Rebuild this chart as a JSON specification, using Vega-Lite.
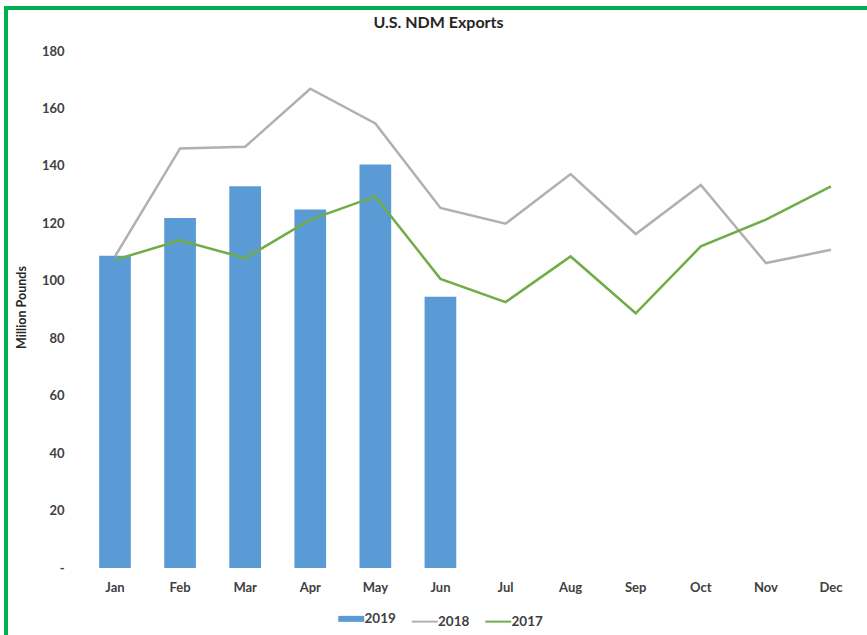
{
  "$schema": "https://vega.github.io/schema/vega-lite/v6.json",
  "width": 865,
  "height": 631,
  "autosize": {"type": "none"},
  "padding": {"left": 6, "top": 8, "right": -4, "bottom": -4},
  "background": "white",
  "title": {
    "text": "U.S. NDM Exports",
    "font": "Lato",
    "fontSize": 16,
    "fontWeight": "bold",
    "color": "#262626",
    "anchor": "middle",
    "frame": "group",
    "orient": "top",
    "offset": -23
  },
  "config": {
    "view": {"stroke": "#00B050", "strokeWidth": 4},
    "axis": {"grid": false}
  },
  "data": {
    "values": [
      {"month": "Jan", "series": "2019", "value": 108.7},
      {"month": "Feb", "series": "2019", "value": 121.9},
      {"month": "Mar", "series": "2019", "value": 132.9},
      {"month": "Apr", "series": "2019", "value": 124.8},
      {"month": "May", "series": "2019", "value": 140.5},
      {"month": "Jun", "series": "2019", "value": 94.5},
      {"month": "Jan", "series": "2018", "value": 108.5},
      {"month": "Feb", "series": "2018", "value": 146.1},
      {"month": "Mar", "series": "2018", "value": 146.7},
      {"month": "Apr", "series": "2018", "value": 166.9},
      {"month": "May", "series": "2018", "value": 154.8},
      {"month": "Jun", "series": "2018", "value": 125.4},
      {"month": "Jul", "series": "2018", "value": 119.9},
      {"month": "Aug", "series": "2018", "value": 137.2},
      {"month": "Sep", "series": "2018", "value": 116.3},
      {"month": "Oct", "series": "2018", "value": 133.4},
      {"month": "Nov", "series": "2018", "value": 106.2},
      {"month": "Dec", "series": "2018", "value": 110.8},
      {"month": "Jan", "series": "2017", "value": 107.3},
      {"month": "Feb", "series": "2017", "value": 114.1},
      {"month": "Mar", "series": "2017", "value": 107.9},
      {"month": "Apr", "series": "2017", "value": 121.3},
      {"month": "May", "series": "2017", "value": 129.4},
      {"month": "Jun", "series": "2017", "value": 100.7},
      {"month": "Jul", "series": "2017", "value": 92.6},
      {"month": "Aug", "series": "2017", "value": 108.5},
      {"month": "Sep", "series": "2017", "value": 88.7},
      {"month": "Oct", "series": "2017", "value": 112.0},
      {"month": "Nov", "series": "2017", "value": 121.3},
      {"month": "Dec", "series": "2017", "value": 132.9}
    ]
  },
  "encoding": {
    "x": {
      "field": "month",
      "type": "nominal",
      "sort": ["Jan", "Feb", "Mar", "Apr", "May", "Jun", "Jul", "Aug", "Sep", "Oct", "Nov", "Dec"],
      "scale": {
        "type": "band",
        "domain": ["Jan", "Feb", "Mar", "Apr", "May", "Jun", "Jul", "Aug", "Sep", "Oct", "Nov", "Dec"],
        "paddingInner": 0.513,
        "paddingOuter": 0.901,
        "align": 0.794
      },
      "axis": {
        "title": null,
        "domain": false,
        "ticks": false,
        "tickSize": 0,
        "labelAngle": 0,
        "labelPadding": 13,
        "offset": -71,
        "labelFont": "Lato",
        "labelFontSize": 13,
        "labelFontWeight": "bold",
        "labelColor": "#404040"
      }
    },
    "y": {
      "field": "value",
      "type": "quantitative",
      "scale": {"domain": [-24.7, 195], "nice": false, "zero": false},
      "axis": {
        "title": "Million Pounds",
        "values": [0, 20, 40, 60, 80, 100, 120, 140, 160, 180],
        "labelExpr": "datum.value === 0 ? '-' : datum.label",
        "domain": false,
        "ticks": false,
        "tickSize": 0,
        "offset": -60,
        "labelPadding": 2,
        "labelFont": "Lato",
        "labelFontSize": 13,
        "labelFontWeight": "bold",
        "labelColor": "#404040",
        "titleFont": "Lato",
        "titleFontSize": 12.5,
        "titleFontWeight": "bold",
        "titleColor": "#262626",
        "titleX": -38,
        "titleY": 299,
        "titleAngle": -90,
        "titleBaseline": "bottom",
        "titleAlign": "center"
      }
    },
    "color": {
      "field": "series",
      "type": "nominal",
      "scale": {"domain": ["2019", "2018", "2017"], "range": ["#5B9BD5", "#B0B0B0", "#70AD47"]},
      "legend": {
        "orient": "none",
        "legendX": 325.5,
        "legendY": 604,
        "direction": "horizontal",
        "title": null,
        "padding": 0,
        "symbolSize": 169,
        "symbolType": "stroke",
        "columnPadding": 8.5,
        "labelOffset": 19.5,
        "labelFont": "Lato",
        "labelFontSize": 13.5,
        "labelFontWeight": "bold",
        "labelColor": "#404040",
        "encode": {
          "symbols": {
            "update": {
              "shape": {"value": "M0,0H4"},
              "strokeWidth": {"signal": "datum.value === '2019' ? 6 : 2"},
              "stroke": {"scale": "color", "field": "value"},
              "fill": {"value": "transparent"},
              "opacity": {"value": 1}
            }
          }
        }
      }
    }
  },
  "layer": [
    {
      "transform": [{"filter": "datum.series === '2019'"}],
      "mark": {"type": "bar"},
      "encoding": {"y2": {"datum": 0}}
    },
    {
      "transform": [{"filter": "datum.series === '2018'"}],
      "mark": {"type": "line", "strokeWidth": 2.5}
    },
    {
      "transform": [{"filter": "datum.series === '2017'"}],
      "mark": {"type": "line", "strokeWidth": 2.5}
    }
  ]
}
